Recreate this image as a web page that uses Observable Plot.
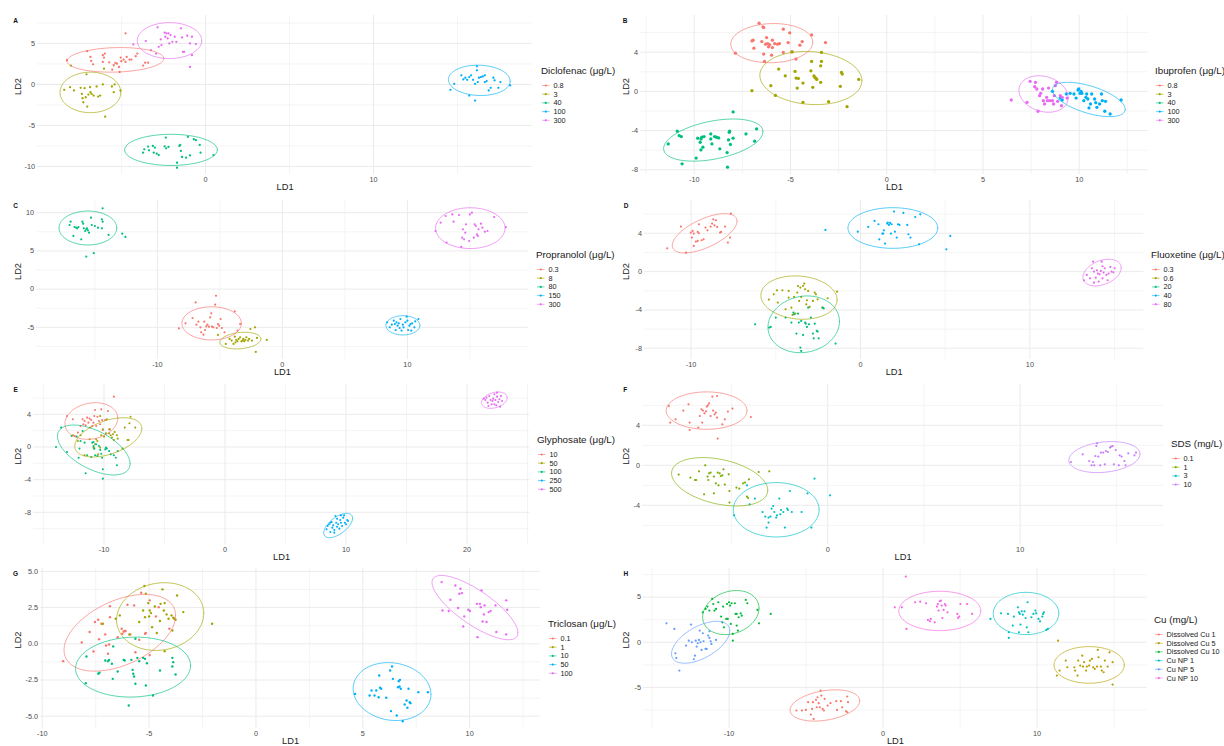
<!DOCTYPE html>
<html><head><meta charset="utf-8">
<script src="https://cdn.jsdelivr.net/npm/d3@7"></script>
<script src="https://cdn.jsdelivr.net/npm/@observablehq/plot@0.6"></script>
<style>
body{margin:0;background:#fff;}
#root{position:relative;width:1224px;height:746px;overflow:hidden;background:#fff;font-family:"Liberation Sans",Arial,sans-serif;}
</style></head><body><div id="root"></div>
<script>
// ---------- palettes (ggplot hue) ----------
const hue5 = ["#F8766D","#A3A500","#00BF7D","#00B0F6","#E76BF3"];
const hue4 = ["#F8766D","#7CAE00","#00BFC4","#C77CFF"];
const hue6 = ["#F8766D","#B79F00","#00BA38","#00BFC4","#619CFF","#F564E3"];

// ---------- A: Diclofenac ----------
const diclofenacLevels = ["0.8","3","40","100","300"];
const diclofenacPoints = [
 [[-8.26,2.95],[-7.05,4.06],[-6.86,3.36],[-6.81,2.87],[-6.70,2.46],[-6.12,3.57],[-6.12,2.75],[-6.05,3.28],[-6.00,3.77],[-5.74,2.70],[-5.56,1.80],[-5.47,2.34],[-5.37,2.62],[-5.28,2.54],[-5.16,2.13],[-5.12,1.52],[-5.05,3.28],[-5.02,2.83],[-4.88,3.03],[-4.70,3.36],[-4.77,2.75],[-4.53,3.03],[-4.42,3.03],[-4.16,3.44],[-4.07,3.77],[-3.72,2.30],[-3.60,2.66],[-3.42,2.66],[-4.77,6.23]],
 [[-8.42,-0.66],[-8.07,-0.33],[-7.84,-0.74],[-7.44,-0.41],[-7.37,-1.15],[-7.33,-1.68],[-7.28,-2.17],[-7.14,-1.56],[-7.05,-2.70],[-7.09,1.23],[-7.21,-0.45],[-6.98,-1.23],[-6.88,-0.33],[-6.86,-0.94],[-6.79,-1.15],[-6.67,-1.35],[-6.49,-0.25],[-6.40,-1.48],[-6.28,-1.35],[-6.12,0.00],[-5.98,-3.93],[-6.05,1.93],[-5.58,-0.25],[-5.47,-0.94],[-5.42,0.00],[-5.07,-0.74],[-8.02,2.30]],
 [[-3.72,-8.32],[-3.65,-7.91],[-3.42,-7.58],[-3.37,-8.03],[-3.14,-7.50],[-3.09,-8.32],[-2.91,-8.44],[-2.79,-8.61],[-3.02,-7.70],[-2.44,-7.54],[-2.35,-7.79],[-2.21,-7.62],[-2.37,-6.48],[-1.56,-7.50],[-1.47,-8.11],[-1.51,-7.38],[-1.40,-8.85],[-1.16,-8.93],[-0.93,-8.65],[-0.70,-6.68],[-0.58,-6.80],[-0.35,-7.38],[-0.30,-8.32],[0.47,-8.61],[-1.70,-9.55],[-1.70,-10.16],[-1.05,-6.39]],
 [[14.58,-0.66],[14.81,0.08],[15.23,1.11],[15.35,0.61],[15.47,0.82],[15.58,0.57],[15.70,0.90],[15.81,1.11],[15.93,0.57],[16.05,0.08],[16.16,1.72],[16.16,2.21],[16.21,0.29],[16.28,0.82],[16.40,0.90],[16.51,0.98],[16.63,1.11],[16.63,0.29],[16.74,0.41],[16.86,-0.74],[16.98,-0.41],[17.14,0.82],[17.21,0.49],[17.44,-0.41],[17.56,0.29],[18.14,-0.12],[15.70,-1.35],[16.05,-1.97]],
 [[-4.30,4.88],[-3.56,5.29],[-3.26,4.18],[-2.95,3.77],[-2.86,6.97],[-2.79,4.59],[-2.67,5.49],[-2.63,4.80],[-2.44,6.31],[-2.40,5.82],[-2.33,6.23],[-2.26,5.61],[-2.21,6.23],[-2.16,5.00],[-2.09,6.02],[-1.98,5.20],[-1.84,5.82],[-1.74,5.20],[-1.47,6.84],[-1.40,5.74],[-1.35,3.98],[-1.09,5.94],[-0.93,5.00],[-0.93,2.13],[-0.81,5.82],[-0.58,4.92],[-0.81,3.57],[-1.28,3.98]]
];
// ellipse: [centre x, centre y, half width, half height, tilt correlation]
const diclofenacEllipses = [[-5.37,3.0,2.88,1.5,0.1],[-6.86,-0.97,1.81,2.47,0.0],[-2.06,-7.98,2.76,1.9,0.0],[16.3,0.5,1.84,1.85,-0.05],[-2.15,5.35,1.92,2.19,0.0]];

// ---------- B: Ibuprofen ----------
const ibuprofenLevels = ["0.8","3","40","100","300"];
const ibuprofenPoints = [
 [[-7.86,3.90],[-7.00,5.15],[-6.94,5.22],[-6.90,4.41],[-6.63,6.95],[-6.49,5.08],[-6.43,6.58],[-6.39,6.51],[-6.39,3.80],[-6.35,3.05],[-6.29,4.81],[-6.24,5.49],[-6.18,4.88],[-6.14,4.54],[-6.08,4.75],[-5.98,3.69],[-5.94,4.47],[-5.94,5.22],[-5.82,4.88],[-5.67,4.81],[-5.57,4.88],[-5.37,6.34],[-5.37,3.97],[-5.12,4.98],[-5.04,5.97],[-4.92,4.03],[-4.71,3.29],[-4.51,4.71],[-4.39,5.08],[-3.90,5.76],[-3.18,4.98]],
 [[-7.00,0.07],[-6.02,0.58],[-5.78,-0.41],[-5.61,2.27],[-5.27,1.59],[-4.92,4.03],[-4.76,2.03],[-4.71,1.36],[-4.65,0.34],[-4.59,1.32],[-4.35,0.85],[-4.35,-1.12],[-3.94,2.10],[-3.90,3.05],[-3.84,0.41],[-3.78,1.59],[-3.73,1.42],[-3.67,1.32],[-3.63,1.22],[-3.43,2.61],[-3.43,0.92],[-3.39,3.97],[-3.39,3.05],[-3.02,-1.05],[-2.41,0.51],[-2.35,1.93],[-2.31,1.76],[-1.45,1.22],[-2.06,-1.56]],
 [[-11.35,-5.36],[-10.88,-4.07],[-10.78,-4.51],[-10.67,-4.61],[-10.63,-7.39],[-9.90,-6.81],[-9.82,-4.78],[-9.69,-5.19],[-9.65,-4.85],[-9.61,-4.68],[-9.55,-5.69],[-9.49,-4.61],[-9.14,-4.34],[-9.14,-4.85],[-9.08,-5.36],[-8.94,-4.61],[-8.84,-4.68],[-8.73,-4.75],[-8.67,-5.86],[-8.29,-6.24],[-8.22,-4.95],[-8.18,-4.17],[-8.16,-4.07],[-8.12,-5.42],[-7.98,-2.10],[-7.98,-4.78],[-8.27,-7.73],[-7.31,-4.34],[-6.86,-5.08],[-6.76,-3.83],[-9.65,-5.97]],
 [[8.61,0.00],[9.02,-0.68],[9.33,-0.27],[9.53,-0.20],[9.73,-0.27],[9.94,0.14],[9.98,0.24],[10.04,-0.20],[10.10,0.00],[10.14,-0.20],[10.24,-0.95],[10.35,-0.61],[10.39,-0.27],[10.45,-0.78],[10.51,-1.69],[10.59,-1.29],[10.65,-0.27],[10.80,-0.78],[10.86,-1.15],[10.92,-1.63],[11.06,-1.29],[11.16,-0.27],[11.20,-0.95],[11.33,-2.03],[11.37,-1.02],[11.61,-2.31],[12.18,-0.88],[9.12,-0.88],[9.84,-0.68]],
 [[6.47,-0.88],[7.29,-1.12],[7.45,1.02],[7.69,0.47],[7.73,0.92],[7.80,0.24],[7.86,-2.03],[7.94,-0.44],[8.00,-0.20],[8.10,0.24],[8.14,-0.95],[8.20,-1.29],[8.31,-0.61],[8.35,-0.95],[8.41,0.34],[8.47,-0.95],[8.61,-0.95],[8.67,-1.29],[8.71,-0.44],[8.76,0.58],[8.82,0.92],[8.88,-1.02],[9.02,-0.44],[9.08,-1.46],[9.12,-0.61],[9.37,-0.68]]
];
const ibuprofenEllipses = [[-5.97,4.92,2.13,2.0,0.05],[-3.94,1.36,2.65,2.71,-0.1],[-9.01,-4.97,2.58,2.15,0.4],[10.5,-0.83,1.89,1.75,-0.57],[8.15,-0.27,1.28,1.86,-0.2]];

// ---------- C: Propranolol ----------
const propranololLevels = ["0.3","8","80","150","300"];
const propranololPoints = [
 [[-8.28,-5.13],[-7.75,-4.48],[-7.19,-3.78],[-6.94,-1.74],[-6.88,-4.65],[-6.72,-4.26],[-6.56,-5.00],[-6.50,-5.65],[-6.31,-5.96],[-6.25,-4.26],[-6.19,-5.35],[-6.09,-4.87],[-6.00,-4.65],[-5.88,-4.91],[-5.78,-3.70],[-5.69,-3.17],[-5.63,-4.91],[-5.53,-5.00],[-5.38,-2.04],[-5.31,-0.87],[-5.25,-5.09],[-5.16,-4.57],[-5.06,-4.78],[-4.94,-3.91],[-4.84,-5.09],[-4.63,-5.65],[-3.81,-2.91],[-3.38,-4.57],[-3.59,-5.43]],
 [[-5.16,-6.00],[-4.53,-7.17],[-4.22,-6.52],[-4.06,-6.74],[-3.91,-7.17],[-3.81,-6.22],[-3.75,-6.96],[-3.69,-6.65],[-3.59,-6.83],[-3.50,-6.52],[-3.38,-6.30],[-3.28,-6.83],[-3.19,-6.74],[-3.13,-6.52],[-3.06,-6.83],[-2.97,-6.65],[-2.88,-6.30],[-2.75,-6.74],[-2.66,-6.52],[-2.56,-5.22],[-2.44,-6.74],[-2.19,-5.00],[-2.03,-6.39],[-1.25,-6.65],[-2.13,-8.22]],
 [[-17.03,8.39],[-16.94,8.83],[-16.72,6.96],[-16.63,8.13],[-16.50,8.04],[-16.41,7.96],[-16.31,8.13],[-16.09,6.52],[-16.00,8.83],[-15.94,8.57],[-15.88,7.96],[-15.78,7.61],[-15.69,7.83],[-15.56,7.70],[-15.47,7.39],[-15.63,7.96],[-15.31,9.35],[-15.25,8.39],[-15.00,8.26],[-14.75,8.04],[-14.44,9.13],[-14.38,8.83],[-14.38,10.57],[-14.44,7.96],[-13.91,7.09],[-12.81,7.26],[-12.56,6.83],[-15.69,4.26],[-15.09,4.70]],
 [[8.38,-4.35],[8.59,-5.00],[8.75,-4.65],[8.91,-4.13],[9.00,-4.57],[9.06,-5.35],[9.13,-4.35],[9.22,-4.78],[9.31,-4.48],[9.38,-5.09],[9.44,-3.91],[9.53,-5.43],[9.69,-5.00],[9.84,-4.35],[9.94,-3.61],[10.00,-4.13],[10.06,-5.35],[10.16,-4.78],[10.25,-4.57],[10.31,-5.43],[10.38,-4.48],[10.56,-5.00],[10.63,-4.22],[10.88,-3.91],[9.63,-4.65]],
 [[12.25,7.61],[12.66,8.70],[13.06,9.57],[13.13,6.09],[13.59,9.78],[13.69,8.83],[14.13,9.70],[14.31,5.52],[14.38,6.74],[14.44,7.83],[14.53,6.52],[14.63,7.39],[14.69,8.48],[14.94,6.30],[15.00,9.78],[15.16,10.00],[15.31,6.74],[15.38,8.48],[15.47,8.26],[15.56,7.17],[15.63,6.96],[15.69,7.83],[15.88,8.57],[16.00,8.04],[16.19,7.52],[16.41,7.61],[16.94,9.43],[17.88,8.13]]
];
const propranololEllipses = [[-5.66,-4.48,2.38,2.17,0.0],[-3.36,-6.74,1.64,1.09,0.2],[-15.56,8.0,2.31,2.22,0.0],[9.64,-4.74,1.36,1.26,0.0],[15.03,7.98,2.78,2.67,0.0]];

// ---------- D: Fluoxetine ----------
const fluoxetineLevels = ["0.3","0.6","20","40","80"];
const fluoxetinePoints = [
 [[-11.41,2.43],[-10.60,4.70],[-10.30,1.98],[-10.02,4.07],[-9.95,3.55],[-9.91,4.24],[-9.84,3.97],[-9.84,2.68],[-9.72,3.13],[-9.61,3.20],[-9.61,4.14],[-9.54,4.94],[-9.54,4.00],[-9.38,3.27],[-9.26,3.37],[-9.15,4.59],[-9.03,4.31],[-8.85,4.70],[-8.76,5.01],[-8.69,5.46],[-8.62,4.83],[-8.53,5.36],[-8.46,4.66],[-8.29,4.07],[-8.23,4.14],[-8.00,4.70],[-7.83,3.03],[-7.70,3.55],[-7.65,6.05]],
 [[-5.41,-2.92],[-5.12,-2.37],[-4.93,-1.95],[-4.88,-3.23],[-4.61,-1.95],[-4.42,-3.93],[-4.24,-2.02],[-4.24,-2.71],[-4.08,-3.76],[-4.01,-4.52],[-3.92,-2.64],[-3.85,-4.38],[-3.73,-2.19],[-3.69,-1.50],[-3.62,-3.06],[-3.55,-1.67],[-3.50,-2.64],[-3.39,-1.50],[-3.32,-1.25],[-3.27,-1.84],[-3.20,-3.41],[-3.16,-2.99],[-3.09,-2.02],[-3.00,-3.69],[-2.81,-3.06],[-2.70,-2.19],[-2.63,-2.37],[-2.53,-2.89],[-2.24,-3.76],[-1.94,-2.78],[-1.38,-2.09]],
 [[-6.22,-5.50],[-5.39,-5.84],[-5.30,-5.77],[-5.00,-4.80],[-4.42,-4.80],[-4.08,-5.32],[-3.96,-4.28],[-3.92,-4.45],[-3.78,-6.47],[-3.69,-4.38],[-3.64,-5.32],[-3.55,-7.93],[-3.50,-5.15],[-3.39,-6.61],[-3.27,-5.32],[-3.23,-5.43],[-3.16,-5.77],[-3.09,-3.76],[-3.04,-5.50],[-2.93,-4.80],[-2.81,-6.47],[-2.76,-6.96],[-2.70,-5.43],[-2.58,-6.19],[-2.53,-6.26],[-2.47,-6.96],[-2.24,-3.76],[-2.17,-3.83],[-1.47,-7.51],[-3.50,-8.28]],
 [[-2.07,4.35],[-0.16,4.17],[0.46,4.66],[0.83,5.29],[1.06,4.94],[1.11,3.37],[1.29,3.97],[1.34,3.97],[1.38,4.31],[1.45,2.92],[1.57,5.01],[1.61,5.11],[1.68,4.87],[1.75,5.08],[1.80,3.97],[1.84,4.94],[1.98,6.26],[2.03,4.17],[2.14,3.55],[2.21,4.94],[2.30,4.87],[2.53,6.12],[2.76,4.87],[2.83,3.90],[2.95,3.55],[3.23,5.70],[3.46,2.85],[3.53,5.98],[5.07,2.33],[5.30,3.72]],
 [[13.20,-0.90],[13.36,-0.35],[13.55,-0.70],[13.66,0.35],[13.73,1.04],[13.78,0.00],[13.89,-0.63],[13.96,0.14],[14.01,-0.21],[14.06,-1.04],[14.12,-0.28],[14.19,0.07],[14.24,1.04],[14.29,-0.70],[14.35,-0.10],[14.42,0.35],[14.52,-0.35],[14.59,-0.90],[14.65,-0.21],[14.75,0.49],[14.82,0.00],[14.93,-0.07],[15.00,0.35],[13.78,-1.15],[14.29,0.56]]
];
const fluoxetineEllipses = [[-9.2,4.0,1.91,2.05,0.62],[-3.63,-2.71,2.25,2.26,-0.1],[-3.35,-5.5,2.11,2.96,0.1],[1.91,4.55,2.65,2.12,0.0],[14.26,-0.1,1.13,1.39,0.35]];

// ---------- E: Glyphosate ----------
const glyphosateLevels = ["10","50","100","250","500"];
const glyphosatePoints = [
 [[-13.06,3.80],[-12.58,3.39],[-12.42,1.35],[-12.16,1.76],[-11.94,2.57],[-11.77,3.39],[-11.71,2.78],[-11.61,3.18],[-11.52,2.65],[-11.39,3.59],[-11.29,2.98],[-11.19,3.47],[-11.13,2.37],[-11.06,3.31],[-10.97,2.57],[-10.87,2.98],[-10.81,3.80],[-10.74,4.53],[-10.65,2.57],[-10.55,3.71],[-10.42,3.18],[-10.32,2.78],[-10.23,4.61],[-10.16,3.31],[-10.10,2.08],[-9.90,3.31],[-9.68,4.41],[-9.58,2.16],[-9.19,6.16]],
 [[-12.58,1.43],[-12.16,0.73],[-11.94,1.43],[-11.61,-1.02],[-11.19,0.94],[-10.87,-0.08],[-10.81,-0.20],[-10.74,0.33],[-10.65,0.94],[-10.55,0.73],[-10.48,-0.90],[-10.32,3.80],[-10.32,-0.08],[-10.23,1.43],[-10.10,2.16],[-10.00,1.27],[-9.84,1.67],[-9.77,3.39],[-9.58,1.67],[-9.52,2.16],[-9.45,1.43],[-9.35,1.14],[-9.26,1.55],[-9.19,0.86],[-9.13,1.84],[-8.94,1.43],[-8.87,1.02],[-8.48,-0.20],[-8.29,2.37],[-8.06,0.86],[-7.90,2.90],[-7.97,0.86],[-7.42,2.37],[-7.81,3.71]],
 [[-13.97,0.00],[-13.55,2.37],[-13.06,-0.61],[-12.68,1.35],[-12.26,1.27],[-12.10,-1.31],[-12.03,-0.20],[-11.94,0.73],[-11.77,1.96],[-11.61,0.53],[-11.52,-3.22],[-11.39,-1.02],[-11.06,-1.22],[-10.97,0.53],[-10.87,0.61],[-10.87,0.12],[-10.81,-0.20],[-10.74,-1.02],[-10.65,0.33],[-10.55,-1.10],[-10.42,0.12],[-10.32,-0.37],[-10.23,-0.82],[-10.16,-1.31],[-10.10,-2.73],[-10.10,-3.88],[-9.90,-0.29],[-9.84,-0.08],[-9.77,-0.20],[-9.58,-0.49],[-9.45,-0.90],[-9.19,-1.02],[-9.03,-1.31],[-8.94,-2.24],[-8.87,-0.49]],
 [[8.39,-10.08],[8.48,-9.67],[8.61,-9.47],[8.71,-10.41],[8.81,-9.18],[8.87,-9.88],[8.94,-9.59],[9.03,-10.16],[9.13,-8.45],[9.19,-9.27],[9.26,-9.76],[9.35,-9.47],[9.45,-10.00],[9.52,-8.94],[9.58,-9.27],[9.68,-9.67],[9.77,-8.65],[9.84,-8.37],[9.90,-9.27],[10.00,-9.47],[10.10,-8.94],[10.16,-9.06],[8.71,-9.27],[9.26,-8.78],[9.58,-8.37],[9.03,-10.49]],
 [[21.39,5.92],[21.52,5.76],[21.61,6.04],[21.71,5.43],[21.84,6.24],[21.94,5.76],[22.03,5.22],[22.10,5.63],[22.16,5.92],[22.26,6.45],[22.35,5.76],[22.42,5.10],[22.48,6.16],[22.58,5.51],[22.68,5.84],[22.74,4.94],[22.81,6.24],[22.90,5.63],[22.26,5.22],[21.77,5.02],[22.48,6.65]]
];
const glyphosateEllipses = [[-11.05,3.18,2.18,2.24,0.15],[-9.65,1.18,2.77,2.4,0.45],[-10.85,-0.37,3.0,3.06,-0.55],[9.35,-9.61,1.19,1.49,0.6],[22.26,5.73,1.06,1.0,0.3]];

// ---------- F: SDS ----------
const sdsLevels = ["0.1","1","3","10"];
const sdsPoints = [
 [[-8.26,5.93],[-8.19,4.27],[-7.91,4.60],[-7.51,5.47],[-7.24,6.10],[-7.18,4.27],[-7.18,3.53],[-6.73,3.77],[-6.65,4.93],[-6.57,5.60],[-6.53,4.27],[-6.49,5.47],[-6.41,5.20],[-6.33,5.40],[-6.29,5.87],[-6.23,6.00],[-6.17,6.20],[-6.09,4.93],[-6.00,6.87],[-5.96,5.47],[-5.88,5.10],[-5.82,5.27],[-5.76,6.93],[-5.72,2.67],[-5.76,4.77],[-5.48,4.10],[-5.35,4.60],[-5.19,5.37],[-4.95,5.67],[-4.00,4.83]],
 [[-7.75,-0.93],[-7.14,-1.23],[-6.90,-1.47],[-6.84,-1.47],[-6.69,-0.60],[-6.37,0.00],[-6.25,-1.13],[-6.21,-1.47],[-6.17,-0.80],[-6.09,-0.73],[-5.92,-1.13],[-5.82,-1.80],[-5.72,-0.73],[-5.68,-2.00],[-5.62,-0.80],[-5.56,-1.07],[-5.48,-1.00],[-5.42,-0.40],[-5.35,-1.93],[-5.15,-0.90],[-5.11,-2.57],[-5.11,-3.73],[-4.75,-2.23],[-4.60,-2.33],[-4.40,-1.80],[-4.30,-1.73],[-4.20,-3.13],[-4.10,-1.40],[-4.14,-3.27],[-3.59,-0.67],[-3.04,-0.60],[-5.92,-2.80],[-6.43,-2.90]],
 [[-4.87,-5.00],[-4.20,-2.00],[-4.06,-3.90],[-3.79,-3.33],[-3.39,-4.67],[-3.25,-5.13],[-3.18,-6.23],[-3.08,-5.23],[-3.08,-5.73],[-2.98,-5.13],[-2.92,-4.33],[-2.84,-4.07],[-2.78,-4.67],[-2.68,-5.23],[-2.64,-5.00],[-2.52,-3.33],[-2.47,-4.90],[-2.43,-4.47],[-2.31,-4.67],[-2.23,-6.23],[-2.11,-4.33],[-2.07,-4.47],[-1.97,-2.57],[-1.87,-4.67],[-1.36,-4.67],[-1.05,-2.80],[-0.85,-6.23],[-0.69,-1.33],[0.12,-3.00]],
 [[12.64,0.33],[13.25,1.10],[13.59,0.43],[13.71,0.00],[13.79,0.33],[13.85,0.00],[13.91,0.93],[13.96,1.93],[14.00,2.20],[14.06,0.87],[14.16,0.00],[14.20,1.27],[14.32,1.27],[14.40,0.10],[14.46,1.43],[14.56,1.33],[14.67,1.77],[14.73,1.87],[14.81,1.93],[14.87,0.10],[14.97,1.53],[15.13,0.00],[15.17,1.00],[15.27,0.87],[15.42,0.43],[15.48,0.00],[15.62,1.20],[15.94,1.00],[16.02,1.27]]
];
const sdsEllipses = [[-6.3,5.47,2.1,1.87,0.0],[-5.62,-1.65,2.5,2.42,-0.35],[-2.68,-4.45,2.23,2.72,0.0],[14.38,0.82,1.85,1.55,0.2]];

// ---------- G: Triclosan ----------
const triclosanLevels = ["0.1","1","10","50","100"];
const triclosanPoints = [
 [[-9.02,-1.20],[-8.15,0.09],[-7.78,0.81],[-7.60,-0.53],[-7.53,1.50],[-7.34,0.32],[-7.23,1.38],[-7.05,0.65],[-7.01,-0.12],[-6.92,-0.69],[-6.87,-0.05],[-6.83,2.60],[-6.83,1.84],[-6.47,0.46],[-6.28,1.04],[-6.25,0.69],[-6.19,0.85],[-6.14,0.88],[-6.10,0.88],[-6.01,2.70],[-5.88,0.65],[-5.70,2.65],[-5.64,-0.58],[-5.46,0.28],[-5.37,3.53],[-5.19,0.69],[-5.15,0.74],[-4.97,3.00],[-4.68,1.89],[-4.55,2.53],[-4.05,1.04],[-4.97,-0.78],[-7.38,1.66]],
 [[-7.16,1.38],[-6.56,1.73],[-6.37,1.96],[-5.92,0.65],[-5.46,1.50],[-5.28,2.30],[-5.22,3.99],[-5.19,1.84],[-5.15,3.46],[-5.04,2.81],[-5.00,1.89],[-4.97,2.30],[-4.91,2.12],[-4.86,1.15],[-4.73,2.58],[-4.64,0.74],[-4.49,1.57],[-4.46,2.76],[-4.37,3.76],[-4.31,2.30],[-4.27,2.81],[-4.18,2.03],[-4.09,1.73],[-3.95,1.96],[-3.91,0.92],[-3.87,1.80],[-3.82,1.73],[-3.76,1.66],[-3.69,3.34],[-3.40,2.19],[-2.05,1.38],[-4.27,-0.51]],
 [[-7.96,-2.72],[-7.93,-0.88],[-7.38,-2.07],[-7.32,-2.00],[-7.05,-1.15],[-6.92,-1.20],[-6.87,-1.11],[-6.74,-1.38],[-6.68,-0.18],[-6.70,-2.42],[-6.47,-1.91],[-6.19,-1.11],[-6.14,-1.15],[-5.83,-1.11],[-5.77,-1.80],[-5.74,-2.07],[-5.70,-2.26],[-5.64,-2.76],[-5.64,0.35],[-5.55,-0.97],[-5.46,-1.20],[-5.28,-0.97],[-5.19,-1.04],[-5.15,-2.88],[-5.10,-1.34],[-4.82,-3.57],[-4.49,-1.84],[-3.91,-0.97],[-3.91,-1.57],[-3.87,-1.27],[-3.76,-2.12],[-5.95,-4.26]],
 [[4.64,-3.46],[5.32,-3.57],[5.41,-3.23],[5.55,-3.57],[5.63,-3.23],[5.74,-3.69],[5.77,-2.19],[5.81,-3.04],[5.86,-3.11],[6.10,-3.73],[6.28,-1.84],[6.32,-4.65],[6.37,-1.57],[6.41,-2.42],[6.65,-3.00],[6.68,-2.58],[6.72,-2.95],[6.74,-2.49],[6.78,-3.11],[6.96,-4.19],[7.05,-3.92],[7.09,-4.42],[7.14,-3.11],[7.20,-4.03],[7.23,-4.10],[7.60,-3.34],[8.05,-3.34],[6.59,-4.95],[6.87,-5.35]],
 [[8.69,4.26],[8.73,2.30],[9.02,2.26],[9.10,3.04],[9.33,4.03],[9.46,2.47],[9.52,3.46],[9.57,3.80],[9.64,3.50],[9.70,1.20],[9.75,1.89],[9.94,2.35],[10.01,2.26],[10.34,2.76],[10.37,0.46],[10.48,2.76],[10.52,2.53],[10.56,3.69],[10.61,1.54],[10.67,2.03],[10.70,2.65],[10.79,1.50],[10.89,2.19],[10.98,2.26],[11.21,2.65],[11.25,0.81],[11.71,3.00],[11.76,2.35],[11.71,0.65]]
];
const triclosanEllipses = [[-6.37,0.76,2.61,2.65,0.45],[-4.48,1.88,2.04,2.34,0.1],[-5.75,-1.61,2.69,2.07,0.05],[6.37,-3.3,1.82,2.0,-0.1],[10.25,2.5,2.01,2.22,-0.78]];

// ---------- H: Cu ----------
const copperLevels = ["Dissolved Cu 1","Dissolved Cu 5","Dissolved Cu 10","Cu NP 1","Cu NP 5","Cu NP 10"];
const copperPoints = [
 [[-5.63,-7.56],[-5.27,-7.56],[-5.02,-7.49],[-4.87,-6.64],[-4.69,-8.01],[-4.61,-7.38],[-4.56,-6.64],[-4.51,-8.49],[-4.36,-6.38],[-4.31,-7.20],[-4.26,-6.09],[-4.18,-6.75],[-4.11,-7.20],[-4.06,-5.35],[-4.01,-5.90],[-3.93,-7.38],[-3.85,-7.56],[-3.80,-6.27],[-3.60,-7.01],[-3.42,-6.75],[-3.04,-6.53],[-2.99,-7.49],[-2.74,-6.53],[-2.66,-7.20],[-2.41,-7.64],[-2.33,-6.01],[-2.33,-7.75],[-2.28,-6.64]],
 [[11.28,-3.69],[11.36,0.18],[11.46,-3.14],[11.86,-2.03],[11.96,-2.77],[12.42,-2.77],[12.47,-3.14],[12.62,-3.69],[12.67,-2.03],[12.80,-2.58],[12.93,-1.48],[12.98,-2.69],[13.05,-2.21],[13.18,-3.14],[13.23,-2.69],[13.38,-2.58],[13.43,-2.03],[13.56,-1.85],[13.64,-2.77],[13.74,-2.95],[13.89,-2.69],[13.94,-0.85],[13.99,-1.66],[14.14,-2.69],[14.20,-3.14],[14.32,-3.32],[14.40,-2.03],[14.58,-2.69],[14.70,-1.11],[14.90,-2.21],[14.90,-4.69]],
 [[-11.71,3.32],[-11.53,3.69],[-11.41,3.95],[-11.28,3.51],[-11.10,4.80],[-11.03,4.24],[-10.95,3.51],[-10.85,3.69],[-10.70,4.43],[-10.52,2.84],[-10.44,2.21],[-10.39,3.95],[-10.34,1.66],[-10.19,2.58],[-10.14,4.24],[-10.09,2.58],[-10.01,4.43],[-9.94,4.06],[-9.89,2.03],[-9.84,4.32],[-9.76,0.92],[-9.63,4.32],[-9.58,3.14],[-9.51,3.14],[-9.51,1.85],[-9.43,1.29],[-9.38,2.77],[-9.25,3.21],[-9.18,2.95],[-8.92,4.69],[-8.82,4.32],[-8.16,3.58],[-8.06,2.10],[-7.30,3.14],[-9.76,0.18]],
 [[6.97,2.58],[7.66,3.21],[8.11,3.14],[8.16,1.11],[8.42,1.85],[8.49,2.84],[8.75,3.87],[8.82,3.32],[8.82,1.11],[8.87,3.14],[8.92,1.96],[9.00,3.43],[9.07,3.06],[9.18,3.43],[9.25,2.69],[9.33,1.66],[9.38,4.43],[9.43,1.11],[9.63,2.77],[9.76,3.14],[9.89,3.51],[9.94,3.21],[10.09,2.58],[10.19,2.32],[10.34,2.84],[10.39,3.14],[10.44,3.32],[10.60,1.37],[10.70,1.48],[8.16,0.48]],
 [[-14.07,2.10],[-13.56,1.48],[-13.49,-1.22],[-13.43,-1.73],[-13.23,-3.14],[-12.80,-0.37],[-12.62,0.18],[-12.47,1.96],[-12.42,0.00],[-12.29,-1.88],[-12.22,-1.48],[-12.17,0.18],[-12.11,-0.48],[-12.04,-0.11],[-11.96,0.26],[-11.91,1.29],[-11.86,0.00],[-11.79,-0.85],[-11.71,1.00],[-11.66,0.11],[-11.53,-0.74],[-11.46,-0.74],[-11.36,0.74],[-11.28,0.48],[-11.28,1.22],[-11.20,0.11],[-11.15,-0.18],[-10.85,0.26]],
 [[0.76,3.87],[1.22,3.87],[1.47,7.27],[1.52,1.48],[2.08,4.43],[2.41,4.50],[2.79,4.32],[2.91,2.47],[3.04,2.32],[3.09,2.58],[3.35,2.21],[3.50,3.95],[3.55,4.24],[3.60,3.51],[3.68,4.54],[3.75,4.61],[3.80,4.06],[3.85,2.69],[3.93,3.58],[4.01,4.24],[4.06,4.06],[4.18,3.32],[4.82,3.14],[4.87,2.69],[4.94,2.84],[5.02,4.24],[5.45,4.24],[5.78,3.14]]
];
const copperEllipses = [[-3.78,-7.0,2.26,1.73,0.3],[13.38,-2.51,2.28,2.03,0.0],[-9.89,3.29,1.83,2.44,0.2],[9.28,3.19,2.13,2.34,0.0],[-11.85,0.0,1.89,2.32,0.55],[3.68,3.47,2.66,2.18,0.0]];

// ---------- axis ticks ----------
const ticksA = {xMajor:[0,10], xMinor:[-5,5,15], yMajor:[-10,-5,0,5], yMinor:[-7.5,-2.5,2.5,7.5]};
const ticksB = {xMajor:[-10,-5,0,5,10], xMinor:[-12.5,-7.5,-2.5,2.5,7.5,12.5], yMajor:[-8,-4,0,4], yMinor:[-6,-2,2,6]};
const ticksC = {xMajor:[-10,0,10], xMinor:[-15,-5,5,15], yMajor:[-5,0,5,10], yMinor:[-7.5,-2.5,2.5,7.5]};
const ticksD = {xMajor:[-10,0,10], xMinor:[-5,5,15], yMajor:[-8,-4,0,4], yMinor:[-6,-2,2,6]};
const ticksE = {xMajor:[-10,0,10,20], xMinor:[-15,-5,5,15,25], yMajor:[-8,-4,0,4], yMinor:[-10,-6,-2,2,6]};
const ticksF = {xMajor:[0,10], xMinor:[-5,5,15], yMajor:[-4,0,4], yMinor:[-6,-2,2,6]};
const ticksG = {xMajor:[-10,-5,0,5,10], xMinor:[-7.5,-2.5,2.5,7.5,12.5], yMajor:[-5,-2.5,0,2.5,5], yMinor:[-3.75,-1.25,1.25,3.75]};
const ticksH = {xMajor:[-10,0,10], xMinor:[-15,-5,5,15], yMajor:[-5,0,5], yMinor:[-7.5,-2.5,2.5,7.5]};

// ---------- layout (page pixel frames and scale domains) ----------
const panels = [
 {tag:"A",title:"Diclofenac (\u03bcg/L)",levels:diclofenacLevels,points:diclofenacPoints,ellipses:diclofenacEllipses,colors:hue5,ticks:ticksA,frame:[37,15,532.2,174],x:[-10.01,19.48],y:[-10.98,8.41],lx:541,col:0,r:1.15},
 {tag:"B",title:"Ibuprofen (\u03bcg/L)",levels:ibuprofenLevels,points:ibuprofenPoints,ellipses:ibuprofenEllipses,colors:hue5,ticks:ticksB,frame:[640.3,15,1148.1,174],x:[-12.79,13.59],y:[-8.48,7.74],lx:1155,col:1,r:1.65},
 {tag:"C",title:"Propranolol (\u03bcg/L)",levels:propranololLevels,points:propranololPoints,ellipses:propranololEllipses,colors:hue5,ticks:ticksC,frame:[35.8,199.5,527.6,358.5],x:[-19.67,19.67],y:[-9.21,11.6],lx:536,col:0,r:1.1},
 {tag:"D",title:"Fluoxetine (\u03bcg/L)",levels:fluoxetineLevels,points:fluoxetinePoints,ellipses:fluoxetineEllipses,colors:hue5,ticks:ticksD,frame:[643.5,199.5,1142.9,358.5],x:[-12.75,16.73],y:[-9.17,7.42],lx:1151,col:1,r:1.1},
 {tag:"E",title:"Glyphosate (\u03bcg/L)",levels:glyphosateLevels,points:glyphosatePoints,ellipses:glyphosateEllipses,colors:hue5,ticks:ticksE,frame:[32.9,383.5,529.1,544],x:[-15.83,25.18],y:[-12.0,7.65],lx:537,col:0,r:1.05},
 {tag:"F",title:"SDS (mg/L)",levels:sdsLevels,points:sdsPoints,ellipses:sdsEllipses,colors:hue4,ticks:ticksF,frame:[642.2,383.5,1163.4,544],x:[-9.63,17.46],y:[-7.97,8.08],lx:1171,col:1,r:1.1},
 {tag:"G",title:"Triclosan (\u03bcg/L)",levels:triclosanLevels,points:triclosanPoints,ellipses:triclosanEllipses,colors:hue5,ticks:ticksG,frame:[40.1,568,540.2,728],x:[-10.08,13.32],y:[-5.85,5.2],lx:548,col:0,r:1.2,fmtY:d=>d.toFixed(1)},
 {tag:"H",title:"Cu (mg/L)",levels:copperLevels,points:copperPoints,ellipses:copperEllipses,colors:hue6,ticks:ticksH,frame:[642.7,568,1146.6,728],x:[-15.56,17.16],y:[-9.55,8.17],lx:1154,col:1,r:1.1}
];

const FONT = '"Liberation Sans", Arial, sans-serif';
const root = document.getElementById("root");

function ellipsePath(e, n = 96) {
  const [cx, cy, rx, ry, rho] = e;
  const s = Math.sqrt(1 - rho * rho);
  return d3.range(n + 1).map(i => {
    const t = 2 * Math.PI * i / n;
    return [cx + rx * Math.cos(t), cy + ry * (rho * Math.cos(t) + s * Math.sin(t))];
  });
}

function inside(vals, dom) {
  const lo = Math.min(...dom), hi = Math.max(...dom);
  return vals.filter(v => v >= lo && v <= hi);
}

function drawPanel(p) {
  const [fl, ft, fr, fb] = p.frame;
  const mL = 40, mR = 14, mT = 14, mB = 26;
  const W = fr - fl + mL + mR, H = fb - ft + mT + mB;
  const pts = [];
  p.points.forEach((arr, i) => arr.forEach(([x, y]) => pts.push({g: p.levels[i], x, y})));
  const ells = [];
  p.ellipses.forEach((e, i) => ellipsePath(e).forEach(([x, y]) => ells.push({g: p.levels[i], x, y})));
  const fmtX = d => String(d);
  const fmtY = p.fmtY || (d => String(d));
  const ld2x = p.col === 0 ? 17.5 : 625.5;
  const tagX = p.col === 0 ? 15 : 625;
  const t = p.ticks;
  const gridStyle = {stroke: "#ebebeb", strokeOpacity: 1};
  const chart = Plot.plot({
    width: W, height: H,
    marginLeft: mL, marginRight: mR, marginTop: mT, marginBottom: mB,
    x: {domain: p.x},
    y: {domain: p.y},
    color: {domain: p.levels, range: p.colors},
    style: {fontFamily: FONT, fontSize: "7.3px", color: "#4d4d4d", background: "transparent", overflow: "visible"},
    marks: [
      Plot.gridX({ticks: inside(t.xMinor, p.x), ...gridStyle, strokeWidth: 0.55}),
      Plot.gridY({ticks: inside(t.yMinor, p.y), ...gridStyle, strokeWidth: 0.55}),
      Plot.gridX({ticks: inside(t.xMajor, p.x), ...gridStyle, strokeWidth: 1}),
      Plot.gridY({ticks: inside(t.yMajor, p.y), ...gridStyle, strokeWidth: 1}),
      Plot.axisX({ticks: inside(t.xMajor, p.x), tickSize: 0, tickPadding: 2.2, tickFormat: fmtX, label: null}),
      Plot.axisY({ticks: inside(t.yMajor, p.y), tickSize: 0, tickPadding: 2.5, tickFormat: fmtY, label: null}),
      Plot.dot(pts, {x: "x", y: "y", fill: "g", r: p.r}),
      Plot.line(ells, {x: "x", y: "y", z: "g", stroke: "g", strokeWidth: 0.65}),
      Plot.text(["LD1"], {frameAnchor: "bottom", text: d => d, dy: 15.3, fontSize: 9.3, fill: "#222"}),
      Plot.text(["LD2"], {frameAnchor: "left", text: d => d, rotate: -90, dx: ld2x - fl, fontSize: 9.3, fill: "#222"}),
      Plot.text([p.tag], {frameAnchor: "top-left", text: d => d, textAnchor: "middle", dx: tagX - fl, dy: 2.5, fontSize: 6.5, fontWeight: "bold", fill: "#111"})
    ]
  });
  chart.style.position = "absolute";
  chart.style.left = (fl - mL) + "px";
  chart.style.top = (ft - mT) + "px";
  chart.style.maxWidth = "none";
  root.appendChild(chart);
}

function drawLegend(p) {
  const n = p.levels.length;
  const [fl, ft, fr, fb] = p.frame;
  const cy = (ft + fb) / 2;
  const tc = cy - (14.5 + (n - 1) * 8.7) / 2 + 1;
  const svg = d3.create("svg")
    .attr("width", 120).attr("height", n * 8.7 + 32)
    .attr("font-family", FONT)
    .style("position", "absolute").style("overflow", "visible")
    .style("left", p.lx + "px").style("top", (tc - 8) + "px");
  svg.append("text").attr("x", 0).attr("y", 8).attr("dy", "0.35em")
    .attr("font-size", 9.8).attr("fill", "#1a1a1a").text(p.title);
  p.levels.forEach((lv, i) => {
    const y = 8 + 14.5 + i * 8.7;
    svg.append("line").attr("x1", 1).attr("x2", 8.5).attr("y1", y).attr("y2", y)
      .attr("stroke", p.colors[i]).attr("stroke-width", 0.6);
    svg.append("circle").attr("cx", 4.75).attr("cy", y).attr("r", 1.1).attr("fill", p.colors[i]);
    svg.append("text").attr("x", 12.5).attr("y", y).attr("dy", "0.35em")
      .attr("font-size", 7.3).attr("fill", "#1a1a1a").text(lv);
  });
  root.appendChild(svg.node());
}

panels.forEach(drawPanel);
panels.forEach(drawLegend);
</script></body></html>
